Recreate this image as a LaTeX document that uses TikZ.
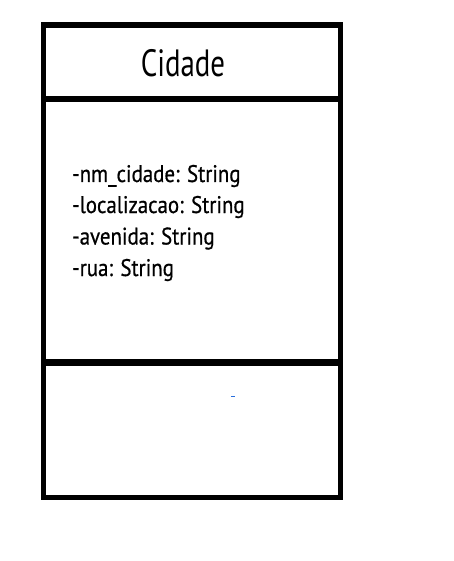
\documentclass[tikz,border=0pt]{standalone}
\usepackage{fontspec}
\setmainfont[FakeStretch=0.76]{PT Sans}
\newfontfamily\attrfont[FakeStretch=0.87,FakeBold=0.6]{PT Sans}
\begin{document}
\begin{tikzpicture}[x=1pt,y=-1pt,
  frame/.style={line width=5.5pt, draw=black, line cap=rect},
  divider/.style={line width=5.5pt, draw=black, line cap=butt},
  titletext/.style={anchor=base, inner sep=0pt, font=\fontsize{38}{44}\selectfont},
  attrtext/.style={anchor=base west, inner sep=0pt, font=\attrfont\fontsize{24}{29}\selectfont}]
\useasboundingbox (0,0) rectangle (454,561);
\coordinate (tl) at (43.5,25);
\coordinate (br) at (340.5,497.5);
\coordinate (d1l) at (41,99);
\coordinate (d1r) at (340.5,99);
\coordinate (d2l) at (43.5,362.5);
\coordinate (d2r) at (340.5,362.5);
\draw[frame] (tl) rectangle (br);
\draw[divider] (d1l) -- (d1r);
\draw[divider, line width=6.5pt] (d2l) -- (d2r);
\node[titletext] (title) at (183,77) {Cidade};
\node[attrtext] (a1) at (72,182) {-nm\_cidade: String};
\node[attrtext] (a2) at (72,213) {-localizacao: String};
\node[attrtext] (a3) at (72,244.5) {-avenida: String};
\node[attrtext] (a4) at (72,276) {-rua: String};
\coordinate (m1) at (231,396.5);
\coordinate (m2) at (235,396.5);
\draw[line width=1pt, draw={rgb,255:red,40;green,110;blue,220}] (m1) -- (m2);
\end{tikzpicture}
\end{document}
